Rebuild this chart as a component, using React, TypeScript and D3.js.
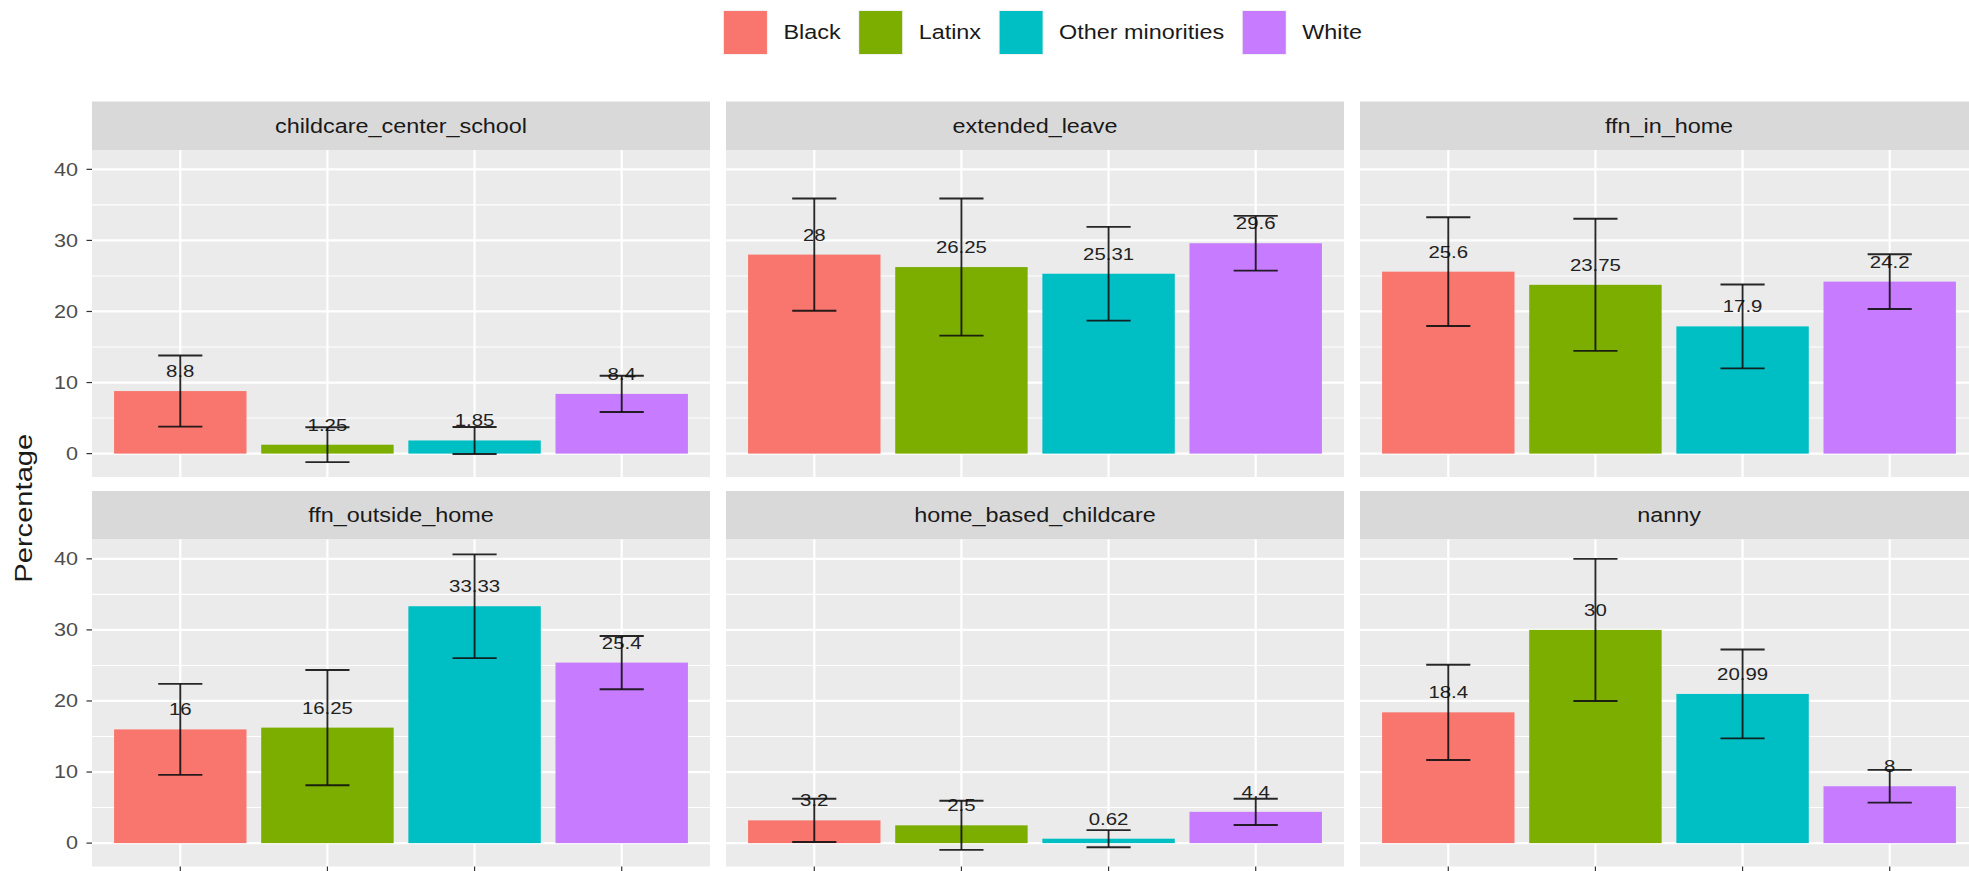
import React, { useMemo } from "react";
import * as d3 from "d3";

// ---- data ----
const panelNames = [
  "childcare_center_school",
  "extended_leave",
  "ffn_in_home",
  "ffn_outside_home",
  "home_based_childcare",
  "nanny",
];
const groups = ["Black", "Latinx", "Other minorities", "White"];
const groupColors = ["#F8766D", "#7CAE00", "#00BFC4", "#C77CFF"];

const childcareCenterSchool = [8.8, 1.25, 1.85, 8.4];
const extendedLeave = [28, 26.25, 25.31, 29.6];
const ffnInHome = [25.6, 23.75, 17.9, 24.2];
const ffnOutsideHome = [16, 16.25, 33.33, 25.4];
const homeBasedChildcare = [3.2, 2.5, 0.62, 4.4];
const nanny = [18.4, 30, 20.99, 8];

const errChildcareCenterSchool = [5.0, 2.45, 1.9, 2.55];
const errExtendedLeave = [7.9, 9.65, 6.6, 3.85];
const errFfnInHome = [7.65, 9.3, 5.9, 3.85];
const errFfnOutsideHome = [6.4, 8.1, 7.3, 3.75];
const errHomeBasedChildcare = [3.05, 3.45, 1.2, 1.85];
const errNanny = [6.7, 10, 6.25, 2.3];

const panelValues = [childcareCenterSchool, extendedLeave, ffnInHome, ffnOutsideHome, homeBasedChildcare, nanny];
const panelErrors = [errChildcareCenterSchool, errExtendedLeave, errFfnInHome, errFfnOutsideHome, errHomeBasedChildcare, errNanny];

const yMajor = [0, 10, 20, 30, 40];
const yMinor = [5, 15, 25, 35];
const yTitle = "Percentage";

// ---- layout ----
const W = 1969;
const H = 871;
const FONT = '"Liberation Sans", Arial, Helvetica, sans-serif';
const SX = 1.2;
const panelLeft0 = 92;
const panelW = 618;
const colStep = 634;
const stripTops = [101.5, 491];
const stripH = 48.5;
const panelH = 327;

function T(props: any) {
  const { x, y, sx = SX, rotate, size, anchor = "start", fill = "#1A1A1A", children, dy } = props;
  return (
    <text
      transform={`translate(${x},${y})${rotate ? ` rotate(${rotate})` : ""} scale(${sx},1)`}
      fontSize={size}
      fontFamily={FONT}
      textAnchor={anchor}
      fill={fill}
      dy={dy}
    >
      {children}
    </text>
  );
}

export default function App() {
  const measure = useMemo(() => {
    const ctx = document.createElement("canvas").getContext("2d");
    return (t: string, size: number) => {
      if (!ctx) return t.length * size * 0.55;
      ctx.font = `${size}px ${FONT}`;
      return ctx.measureText(t).width;
    };
  }, []);

  // y domain from data with 5% expansion
  const lows: number[] = [];
  const highs: number[] = [];
  panelValues.forEach((vals, p) =>
    vals.forEach((v, i) => {
      lows.push(Math.min(0, v - panelErrors[p][i]));
      highs.push(v + panelErrors[p][i]);
    })
  );
  const lo0 = d3.min(lows) as number;
  const hi0 = d3.max(highs) as number;
  const pad = (hi0 - lo0) * 0.05;
  const yDomain: [number, number] = [lo0 - pad, hi0 + pad];

  const x = d3
    .scaleBand<string>()
    .domain(groups)
    .range([0, panelW])
    .paddingInner(0.1)
    .paddingOuter(0.15);
  const step = x.step();
  const capW = step * 0.3;

  // legend layout
  const legendFont = 19.5;
  const keySize = 45;
  const keyGap = 15.5;
  const itemGap = 17.5;
  const textWs = groups.map((g) => measure(g, legendFont) * SX);
  const legendTotal =
    groups.length * (keySize + keyGap) + d3.sum(textWs) + (groups.length - 1) * itemGap;
  let lx = 1042.5 - legendTotal / 2;
  const legendItems = groups.map((g, i) => {
    const item = { g, i, kx: lx, tx: lx + keySize + keyGap };
    lx += keySize + keyGap + textWs[i] + itemGap;
    return item;
  });
  const legendTop = 10;

  return (
    <div style={{ position: "absolute", left: 0, top: 0 }}>
      <svg width={W} height={H} style={{ display: "block", background: "#fff" }}>
        <rect x={0} y={0} width={W} height={H} fill="#fff" />
        {/* legend */}
        {legendItems.map((it) => (
          <g key={it.g}>
            <rect x={it.kx} y={legendTop} width={keySize} height={keySize} fill="#F2F2F2" />
            <rect x={it.kx + 1} y={legendTop + 1} width={keySize - 2} height={keySize - 2} fill={groupColors[it.i]} />
            <T x={it.tx} y={legendTop + keySize / 2} size={legendFont} dy="0.35em" fill="#1A1A1A">
              {it.g}
            </T>
          </g>
        ))}

        {/* y title */}
        <T x={31.8} y={(stripTops[0] + stripH + stripTops[1] + stripH + panelH) / 2} rotate={-90} sx={1.24} size={23.5} anchor="middle" fill="#1A1A1A">
          {yTitle}
        </T>

        {panelNames.map((name, p) => {
          const row = Math.floor(p / 3);
          const col = p % 3;
          const left = panelLeft0 + col * colStep;
          const sTop = stripTops[row];
          const pTop = sTop + stripH;
          const pBottom = pTop + panelH;
          const y = d3.scaleLinear().domain(yDomain).range([pBottom, pTop]);
          const vals = panelValues[p];
          const errs = panelErrors[p];
          return (
            <g key={name}>
              <rect x={left} y={sTop} width={panelW} height={stripH} fill="#D9D9D9" />
              <T x={left + panelW / 2} y={sTop + stripH / 2} size={19.5} anchor="middle" dy="0.35em" fill="#1A1A1A">
                {name}
              </T>
              <rect x={left} y={pTop} width={panelW} height={panelH} fill="#EBEBEB" />
              <g transform={`translate(${left},0)`}>
                {yMinor.map((t) => (
                  <line key={"mn" + t} x1={0} x2={panelW} y1={y(t)} y2={y(t)} stroke="#fff" strokeWidth={1.1} />
                ))}
                {yMajor.map((t) => (
                  <line key={"mj" + t} x1={0} x2={panelW} y1={y(t)} y2={y(t)} stroke="#fff" strokeWidth={2.2} />
                ))}
                {groups.map((g) => {
                  const cx = (x(g) as number) + x.bandwidth() / 2;
                  return <line key={"v" + g} x1={cx} x2={cx} y1={pTop} y2={pBottom} stroke="#fff" strokeWidth={2.2} />;
                })}
                {groups.map((g, i) => (
                  <rect
                    key={"b" + g}
                    x={x(g) as number}
                    y={y(Math.max(0, vals[i]))}
                    width={x.bandwidth()}
                    height={Math.abs(y(0) - y(vals[i]))}
                    fill={groupColors[i]}
                  />
                ))}
                {groups.map((g, i) => {
                  const cx = (x(g) as number) + x.bandwidth() / 2;
                  return (
                    <T key={"l" + g} x={cx} y={y(vals[i]) - 14} size={17} anchor="middle" fill="#222">
                      {String(vals[i])}
                    </T>
                  );
                })}
                {groups.map((g, i) => {
                  const cx = (x(g) as number) + x.bandwidth() / 2;
                  const yu = y(vals[i] + errs[i]);
                  const yl = y(vals[i] - errs[i]);
                  return (
                    <g key={"e" + g} stroke="#111" strokeWidth={1.9} strokeOpacity={0.9}>
                      <line x1={cx} x2={cx} y1={yu} y2={yl} />
                      <line x1={cx - capW / 2} x2={cx + capW / 2} y1={yu} y2={yu} />
                      <line x1={cx - capW / 2} x2={cx + capW / 2} y1={yl} y2={yl} />
                    </g>
                  );
                })}
                {row === 1 &&
                  groups.map((g) => {
                    const cx = (x(g) as number) + x.bandwidth() / 2;
                    return <line key={"xt" + g} x1={cx} x2={cx} y1={pBottom} y2={pBottom + 6} stroke="#333" strokeWidth={1.2} />;
                  })}
              </g>
              {col === 0 &&
                yMajor.map((t) => (
                  <g key={"yt" + t}>
                    <line x1={left - 5.5} x2={left} y1={y(t)} y2={y(t)} stroke="#333" strokeWidth={1.2} />
                    <T x={left - 14} y={y(t)} size={18} anchor="end" dy="0.35em" fill="#4D4D4D">
                      {String(t)}
                    </T>
                  </g>
                ))}
            </g>
          );
        })}
      </svg>
    </div>
  );
}
